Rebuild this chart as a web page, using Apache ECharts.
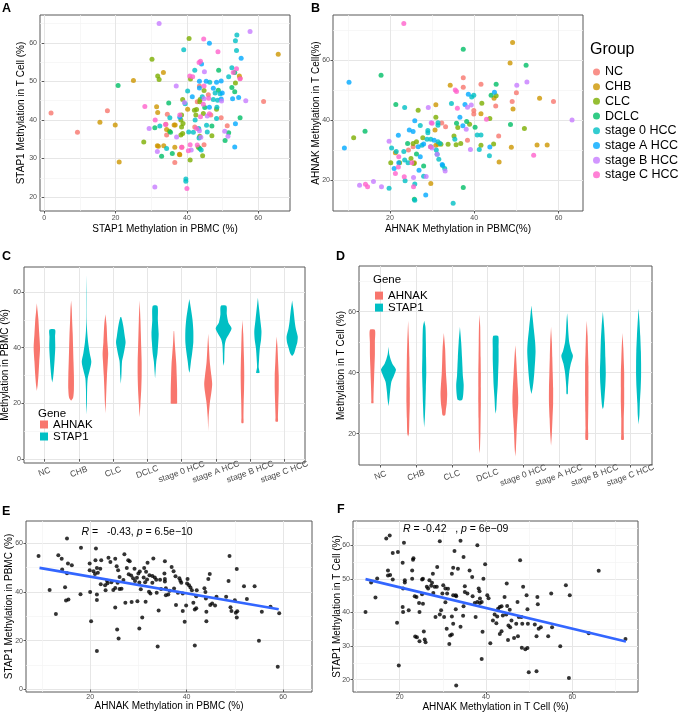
<!DOCTYPE html>
<html><head><meta charset="utf-8">
<script src="https://cdn.jsdelivr.net/npm/echarts@6/dist/echarts.min.js"></script>
<style>html,body{margin:0;padding:0;background:#fff}#c{width:679px;height:712px}</style>
</head><body><div id="c"></div>
<script>
// ---------------- DATA ----------------
const groups = ['NC','CHB','CLC','DCLC','stage 0 HCC','stage A HCC','stage B HCC','stage C HCC'];
const genes = ['AHNAK','STAP1'];

// Panel A: STAP1 PBMC (x) vs STAP1 T cell (y)
const A_NC = [[1.9,41.8],[9.3,36.8],[17.7,42.4],[46.0,46.5],[42.9,44.7],[54.9,50.8],[34.1,38.9],[34.5,41.5],[34.3,36.1],[38.6,32.9],[36.6,29.0],[43.5,48.8],[46.7,41.3],[42.2,38.2],[44.8,33.6],[61.5,44.8],[49.6,40.6],[51.3,38.5]];
const A_CHB = [[15.6,39.4],[19.9,38.7],[21.0,29.1],[25.0,50.2],[33.4,52.3],[31.5,43.4],[31.8,41.9],[36.4,38.7],[34.3,37.5],[32.0,33.2],[33.5,33.3],[36.6,32.9],[38.0,31.0],[40.2,42.8],[54.7,51.4],[65.6,57.0],[31.7,33.3],[37.9,31.1],[36.7,38.7]];
const A_CLC = [[27.9,34.3],[30.2,55.7],[31.8,51.4],[32.2,50.5],[40.6,61.1],[41.0,50.6],[44.8,47.6],[53.6,49.6],[43.7,45.3],[38.8,45.3],[43.6,44.7],[48.3,42.8],[42.7,42.7],[42.1,42.5],[44.6,41.7],[42.5,41.3],[38.5,41.3],[38.3,40.0],[38.9,39.1],[38.5,38.2],[35.1,37.1],[38.8,36.5],[38.3,36.1],[43.6,35.8],[47.0,35.9],[43.2,32.9],[44.4,30.7],[40.9,29.6]];
const A_DCLC = [[20.7,48.9],[48.9,52.9],[53.4,52.3],[48.8,47.7],[52.6,48.4],[53.4,47.3],[34.9,44.4],[45.0,43.2],[54.9,40.6],[31.0,38.0],[35.4,36.8],[51.7,36.7],[32.9,30.6],[35.9,31.3],[43.6,32.6],[50.7,34.7],[47.0,38.4]];
const A_S0 = [[53.6,60.5],[54.0,62.0],[39.1,58.2],[53.9,58.0],[42.2,52.9],[46.4,49.8],[51.7,51.2],[52.6,53.5],[40.2,47.5],[47.9,47.0],[49.3,46.8],[44.3,46.0],[47.4,45.3],[48.6,45.1],[39.5,44.2],[48.4,43.3],[35.2,40.6],[48.3,40.4],[42.3,40.0],[32.4,38.4],[45.5,38.6],[40.5,36.9],[41.8,36.8],[43.3,37.8],[45.7,36.9],[43.4,35.3],[34.3,32.6],[44.0,32.2],[39.7,24.7],[39.7,24.1]];
const A_SA = [[46.3,59.9],[55.2,56.0],[44.1,54.5],[43.5,50.0],[45.4,50.0],[48.3,49.8],[49.6,50.1],[47.4,48.2],[49.9,47.0],[41.5,46.0],[49.6,45.4],[52.8,45.5],[54.5,45.8],[46.3,43.3],[38.0,40.7],[53.6,39.0],[53.4,33.0],[43.5,48.3]];
const A_SB = [[32.2,65.0],[57.7,62.9],[44.9,52.5],[37.0,48.8],[44.8,45.5],[49.7,44.9],[56.5,45.0],[39.3,44.5],[45.7,41.0],[29.4,37.8],[43.5,37.2],[50.6,37.1],[37.1,35.6],[43.9,35.5],[51.5,35.8],[31.7,31.8],[41.2,32.2],[31.0,22.6]];
const A_SC = [[44.7,61.0],[48.7,57.7],[43.4,54.9],[43.8,55.2],[40.8,51.4],[41.6,51.2],[53.0,52.3],[53.9,53.3],[54.9,50.7],[44.8,48.8],[46.1,45.6],[44.6,44.1],[46.3,41.6],[43.8,40.8],[38.0,41.3],[34.0,38.8],[31.1,40.0],[42.7,37.8],[40.9,33.6],[40.4,32.0],[42.9,33.5],[38.5,32.9],[40.0,22.2],[28.2,43.5]];

// Panel B: AHNAK PBMC (x) vs AHNAK T cell (y)
const B_NC = [[37.4,54.2],[37.4,51.0],[41.6,52.0],[50.0,49.2],[45.1,44.8],[49.0,46.3],[58.8,46.3],[39.9,43.3],[39.9,42.1],[33.2,37.9],[32.3,39.1],[38.4,33.4],[45.8,34.8],[25.5,31.2],[24.4,30.1]];
const B_CHB = [[49.1,65.9],[48.5,59.1],[34.3,51.7],[44.7,47.4],[55.5,47.4],[49.2,43.8],[30.9,45.2],[41.6,42.2],[30.7,36.8],[30.9,31.7],[21.3,29.2],[25.8,25.9],[29.7,19.0],[45.9,26.1],[48.8,31.0],[54.9,31.8],[57.3,31.8],[31.4,32.0]];
const B_CLC = [[45.2,48.2],[41.8,45.7],[26.7,43.4],[30.9,41.0],[38.9,38.7],[36.1,37.6],[43.7,40.6],[51.9,37.3],[25.5,32.3],[26.3,32.9],[27.8,34.2],[32.1,32.0],[33.8,32.0],[35.2,34.8],[35.7,31.9],[36.8,32.3],[41.6,31.7],[44.6,32.1],[20.2,25.9],[22.3,25.9],[25.0,27.3],[11.4,34.2],[25.7,25.6]];
const B_DCLC = [[37.4,63.7],[52.3,58.4],[17.9,55.0],[45.2,52.0],[44.0,48.4],[21.4,45.3],[35.8,39.0],[40.2,37.7],[48.6,38.6],[24.2,32.3],[26.3,28.8],[28.0,24.8],[25.8,13.7],[37.4,17.6],[14.1,36.4],[38.2,39.6]];
const B_S0 = [[39.9,48.4],[39.4,47.8],[34.6,45.6],[23.5,44.3],[27.2,38.3],[29.0,36.6],[29.0,35.9],[31.4,38.4],[31.4,39.2],[28.8,33.7],[29.7,33.7],[27.6,31.7],[31.4,32.9],[31.9,32.3],[35.4,33.7],[40.7,35.1],[41.6,35.1],[41.2,30.3],[20.4,30.8],[21.5,29.6],[23.3,29.6],[31.0,30.1],[31.2,28.7],[31.6,27.0],[23.5,26.8],[24.3,25.9],[33.0,24.0],[19.8,17.4],[23.6,19.9],[25.9,18.8],[28.0,21.4],[25.9,13.4],[35.0,12.4],[43.6,28.2],[32.5,25.0],[29.7,31.2]];
const B_SA = [[10.3,52.7],[44.8,49.4],[38.6,48.7],[37.8,45.3],[36.6,41.0],[37.3,38.2],[25.9,39.9],[24.6,36.8],[25.5,36.3],[30.5,33.4],[22.0,35.0],[26.7,31.2],[28.0,32.1],[43.7,31.1],[27.2,27.9],[22.1,25.9],[32.4,25.3],[21.0,24.0],[26.9,23.4],[28.5,15.1],[9.2,30.8]];
const B_SB = [[50.1,51.7],[52.5,52.8],[38.4,44.4],[39.3,45.1],[29.1,44.3],[29.8,39.2],[38.1,37.0],[63.2,40.1],[39.1,30.3],[30.0,30.8],[19.8,33.0],[31.2,28.7],[33.1,23.1],[25.6,21.0],[28.6,21.3],[12.8,18.4],[16.1,19.6],[18.0,17.9]];
const B_SC = [[23.3,72.3],[35.5,50.1],[35.8,49.6],[42.9,40.4],[30.0,39.0],[29.6,31.2],[22.1,27.9],[25.2,25.9],[21.3,22.3],[23.4,21.2],[25.6,17.9],[14.2,18.7],[14.7,17.9],[54.1,28.4],[22.0,24.5],[36.0,44.0]];

// Panels C/D: violin density profiles [methylation %, relative density], top to bottom
const C_AHNAK = [
  [[56,0],[53,2],[50,4],[45,6],[40,8],[35,6],[30,4],[26.5,2],[24.5,0]],
  [[57,0],[54,1.5],[50,2.5],[45,4],[40,5],[35,6],[30,7],[25,7],[22,5],[21,0]],
  [[52,0],[48,3],[42,5],[38,7],[35,6],[30,4],[25,2.5],[20,1.2],[16.5,0]],
  [[57,0],[50,2],[45,3],[40,4],[35,5],[30,5],[25,4],[20,2],[15,0]],
  [[46,0.5],[42,2],[38,4],[34,6],[30,7],[25,8],[21,8],[20,7.5]],
  [[45,0],[40,2],[35,4],[30,8],[27,10],[24,8],[20,4],[15,1.2],[10,0]],
  [[50,0],[45,2],[40,3],[35,4],[30,4.5],[25,4],[20,3],[15,2.5],[13,2.5]],
  [[44,0],[40,2],[35,3.5],[30,5],[25,5],[20,4],[15,3],[13.5,3]]
];
const C_STAP1 = [
  [[46.5,7],[44,7],[40,7.5],[36,6],[32,4],[29,2],[27.5,0]],
  [[66,0],[60,0.4],[50,0.5],[46,1.5],[42,4],[38,8],[35,12],[32,8],[29,3],[25,1.5],[20,1],[16,0]],
  [[51,1],[48,6],[44,10],[42,12],[40,10],[37,6],[35,3],[30,1.5],[27,0]],
  [[55,6],[50,7],[45,9],[42,8],[38,6],[35,3],[31,1],[29,0]],
  [[57.5,0],[54,4],[50,8],[46,10],[42,10],[38,7],[35,4],[32,1.5],[31,0]],
  [[55,7],[52,8],[49,12],[47,20],[45,14],[43,6],[41,3],[38,2],[35,1.5],[33.5,0]],
  [[58,0],[54,3],[50,6],[46,9],[43,8],[40,5],[36,3],[33,2],[31,4]],
  [[57,0],[54,3],[50,6],[47,9],[44,14],[42,13],[40,9],[38,5],[37,0]]
];
const D_AHNAK = [
  [[54,6],[50,6],[46,6],[42,5],[38,4],[34,3],[31,2.5],[30,2.5]],
  [[57,0],[50,2],[45,3],[40,3.5],[35,4],[30,4],[25,3],[20,2],[19,0]],
  [[53,0],[48,3],[44,4],[40,5],[36,7],[33,8],[30,7],[28,5],[26,3]],
  [[59,0],[55,1.5],[50,2],[45,2.5],[40,3],[35,3],[30,3],[25,2.5],[20,2],[15,1],[13.5,0]],
  [[49,0],[45,2],[40,4],[35,6],[32,7],[30,7],[25,5],[20,3],[15,1.5],[12.5,0]],
  [[55,0],[50,2],[45,3],[40,4],[35,5],[30,5],[25,3.5],[20,2],[16,0]],
  [[57,0],[52,2],[47,3],[42,4],[37,4],[32,4],[27,3.5],[22,3],[18,3]],
  [[53,0],[48,2],[44,3],[40,4],[35,4],[30,4],[25,3],[20,3],[18,3]]
];
const D_STAP1 = [
  [[48.5,0],[46,2],[43,9],[41,18],[39,13],[37,7],[34,4],[31,2],[29,0]],
  [[57,0],[55,3],[50,4],[45,4.5],[40,5],[35,4],[30,3],[25,1.5],[22,0]],
  [[55,0],[50,3],[45,5],[42,6],[39,7],[36,9],[33,8],[31,5]],
  [[52,6],[48,7],[44,7],[40,6],[36,5],[32,3],[28,1.5],[26.5,0]],
  [[62,0],[58,3],[54,6],[50,9],[47,10],[44,9],[40,7],[37,5],[35,3],[33,0]],
  [[59.5,0],[57,1.5],[53,3],[50,5],[47,10],[45.5,14],[43,9],[40,5],[37,3],[35,2],[33,1.5]],
  [[60,0],[55,3],[50,5],[45,6],[40,7],[36,6],[32,4],[29,2],[28,0]],
  [[61,0],[57,2],[52,4],[47,5.5],[43,6],[39,6],[35,5],[30,3],[26,2],[23,0]]
];

// Panel E: AHNAK PBMC (x) vs STAP1 PBMC (y)
const E_points = [[9.3,54.7],[15.2,61.8],[18.1,58.0],[21.2,57.7],[13.4,55.0],[14.1,53.5],[14.2,49.1],[15.4,51.6],[16.2,50.9],[15.2,47.6],[11.6,40.8],[14.8,41.9],[15.0,36.5],[15.5,36.9],[12.9,30.9],[18.0,39.0],[20.0,39.9],[20.2,28.0],[21.4,15.8],[21.4,36.7],[21.4,38.9],[19.9,51.6],[19.9,48.8],[20.7,48.4],[21.0,47.3],[21.6,47.8],[21.4,49.8],[22.1,49.5],[22.3,52.9],[21.1,52.9],[22.2,43.1],[23.1,42.7],[23.5,44.5],[23.6,43.5],[23.8,54.0],[24.2,52.2],[23.2,40.7],[24.4,43.9],[24.8,40.8],[25.2,41.6],[25.2,53.5],[25.5,50.5],[25.8,48.8],[26.1,46.1],[25.7,43.7],[26.1,41.2],[26.5,41.3],[25.2,33.6],[25.6,24.6],[25.9,20.9],[26.9,44.8],[27.1,55.4],[27.6,49.8],[27.3,35.5],[27.9,52.9],[28.2,52.5],[28.0,47.2],[28.5,46.7],[28.6,35.8],[28.9,45.6],[29.2,49.5],[29.3,44.4],[29.7,45.8],[30.0,47.5],[30.2,43.8],[29.8,36.2],[30.2,25.0],[30.3,48.3],[30.5,41.1],[30.8,29.5],[31.1,45.9],[31.2,49.8],[31.4,43.9],[31.5,35.9],[31.6,48.2],[31.8,45.1],[31.9,51.9],[32.3,46.8],[32.2,40.0],[32.5,39.3],[32.9,43.7],[32.9,46.5],[33.1,53.6],[33.4,45.9],[33.7,45.0],[33.8,39.6],[34.0,17.6],[34.2,32.4],[34.7,41.2],[34.5,45.0],[35.5,52.5],[35.4,47.5],[35.5,45.3],[35.5,44.2],[35.7,41.5],[35.7,38.6],[36.2,38.9],[36.5,40.4],[36.9,50.2],[37.3,48.4],[37.7,46.4],[37.4,41.4],[37.8,34.6],[38.2,39.6],[38.5,45.6],[38.7,44.5],[38.9,43.7],[39.2,39.3],[39.2,32.2],[39.6,27.8],[39.9,34.4],[40.1,43.4],[40.2,45.3],[40.5,42.7],[40.8,41.8],[41.1,40.7],[41.4,35.5],[41.7,32.8],[41.7,18.0],[42.1,40.7],[42.0,38.2],[42.0,33.3],[43.7,41.5],[43.9,39.9],[44.0,37.3],[44.1,28.0],[44.1,31.8],[44.8,47.3],[44.5,45.3],[44.9,34.6],[45.3,35.2],[45.9,34.4],[46.2,38.0],[48.2,38.0],[48.9,54.7],[48.7,44.4],[49.1,33.7],[49.3,32.2],[50.0,36.6],[50.2,31.4],[50.5,32.1],[50.4,29.5],[50.4,49.3],[51.9,42.3],[52.5,37.1],[54.1,42.3],[55.0,20.0],[55.6,31.8],[57.4,33.9],[59.2,31.2],[58.9,9.3]];
const E_fit = [[9.5,49.8],[59.1,32.9]];

// Panel F: AHNAK T cell (x) vs STAP1 T cell (y)
const F_points = [[12.1,40.1],[13.4,48.9],[14.4,44.4],[14.8,50.1],[16.9,62.0],[17.7,62.9],[17.3,52.5],[17.3,51.0],[17.8,51.1],[18.4,49.8],[18.4,57.7],[19.4,36.9],[19.6,58.0],[19.8,24.2],[21.0,60.7],[20.7,54.8],[20.7,41.6],[20.8,40.1],[20.8,47.1],[21.2,49.6],[21.2,48.9],[22.1,40.6],[22.9,52.5],[23.1,55.7],[23.2,56.1],[22.9,50.0],[23.5,44.8],[23.9,44.6],[23.6,32.8],[24.0,32.6],[24.5,42.8],[24.6,40.1],[24.6,31.4],[25.2,49.8],[25.4,50.0],[25.2,45.4],[25.4,42.6],[25.6,34.3],[25.8,31.9],[26.0,31.1],[26.3,47.6],[26.6,47.1],[26.9,49.6],[27.3,47.9],[27.5,48.8],[27.7,51.5],[27.8,45.8],[28.1,47.6],[28.3,38.6],[28.7,53.5],[28.6,47.6],[29.3,39.4],[29.3,61.2],[29.6,40.6],[29.9,45.6],[30.1,48.1],[30.3,38.6],[30.6,47.1],[30.6,43.0],[30.9,35.1],[31.0,45.6],[31.2,47.0],[31.5,30.6],[31.7,33.1],[32.1,38.8],[32.1,51.5],[32.4,53.3],[32.4,45.1],[32.1,33.4],[32.4,36.6],[32.7,58.3],[33.0,45.1],[33.0,40.9],[33.1,44.8],[33.1,18.2],[33.5,53.0],[34.1,35.7],[34.1,61.3],[34.7,39.0],[34.8,41.8],[34.8,56.5],[35.1,47.8],[35.1,46.1],[35.7,45.6],[36.2,52.5],[36.8,50.5],[36.9,44.8],[37.4,42.8],[37.6,38.6],[38.0,43.1],[38.0,60.0],[38.3,47.1],[38.5,46.3],[38.6,42.8],[38.6,44.1],[39.0,43.1],[39.2,34.2],[39.0,26.1],[39.4,50.0],[39.8,54.3],[40.3,45.1],[40.6,44.2],[41.0,30.8],[41.6,37.6],[42.0,39.4],[42.4,36.8],[42.6,38.8],[42.8,41.1],[43.2,33.6],[43.2,41.6],[43.6,41.8],[43.6,34.4],[43.9,39.1],[44.3,44.6],[44.8,48.6],[44.7,39.4],[44.9,41.9],[45.1,31.8],[45.2,36.1],[45.5,40.8],[45.6,35.6],[45.9,37.6],[46.5,32.4],[47.0,36.6],[47.3,43.1],[47.4,32.9],[47.9,55.5],[47.6,38.6],[48.2,38.6],[48.4,36.6],[48.6,47.6],[48.3,29.5],[49.1,29.0],[49.6,29.4],[49.4,45.1],[49.6,40.9],[49.7,36.6],[49.9,22.2],[51.3,36.4],[51.7,32.9],[51.9,44.6],[52.0,42.4],[52.2,35.1],[51.7,22.5],[52.7,35.6],[54.4,32.9],[55.1,45.6],[55.3,35.6],[57.2,29.9],[58.5,48.1],[59.4,45.1],[59.2,20.5],[63.8,33.8],[66.1,52.4],[72.3,32.1]];
const F_fit = [[12.1,49.9],[72.4,31.3]];

// ---------------- STYLE / LAYOUT ----------------
const groupColors = ['#F8766D','#CD9600','#7CAE00','#00BE67','#00BFC4','#00A9FF','#C77CFF','#FF61CC'];
const geneColors = ['#F8766D','#00BFC4'];
const FONT = '"Liberation Sans", Arial, sans-serif';
const GMAJ = '#E6E6E6', GMIN = '#F3F3F3';
const DODGE = 0.225, WSCALE = 1/86;

const gridBoxes = [
  [40,15,250,196],   // A
  [333,15,250,196],  // B
  [24,267,281,196],  // C
  [359,266,293,199], // D
  [26,521,286,171],  // E
  [353,521,285,171]  // F
];

function major(dim, gi, min, max, ticks, cfg) {
  cfg = cfg || {};
  const lab = { customValues: ticks, fontSize: cfg.fs || 7, color: '#4D4D4D', fontFamily: FONT, margin: cfg.margin != null ? cfg.margin : 3 };
  if (cfg.formatter) lab.formatter = cfg.formatter;
  if (cfg.rotate) lab.rotate = cfg.rotate;
  if (cfg.align) lab.align = cfg.align;
  if (cfg.valign) lab.verticalAlign = cfg.valign;
  return {
    type: 'value', gridIndex: gi, min: min, max: max,
    position: dim === 'x' ? 'bottom' : 'left',
    axisLine: { show: false },
    axisTick: { show: true, length: 2.5, customValues: ticks, lineStyle: { color: '#333', width: 0.8 } },
    axisLabel: lab,
    splitLine: { show: true, lineStyle: { color: GMAJ, width: 1 } },
    name: cfg.name || '', nameLocation: 'middle', nameGap: cfg.nameGap || 12,
    nameTextStyle: { fontSize: 10, color: '#000', fontFamily: FONT },
    nameMoveOverlap: false,
    z: 0
  };
}
function minor(dim, gi, min, max, ticks) {
  return {
    type: 'value', gridIndex: gi, min: min, max: max,
    position: dim === 'x' ? 'top' : 'right',
    axisLine: { show: false },
    axisTick: { show: false, customValues: ticks },
    axisLabel: { show: false, customValues: ticks },
    splitLine: { show: true, lineStyle: { color: GMIN, width: 0.7 } },
    z: 0
  };
}
const catFmt = v => groups[Math.round(v) - 1] || '';
const catTicks = groups.map((g, i) => i + 1);

const xAxes = [
  major('x',0,-1.2,68.9,[0,20,40,60],{name:'STAP1 Methylation in PBMC (%)',nameGap:13,margin:3.5}),
  minor('x',0,-1.2,68.9,[10,30,50]),
  major('x',1,6.5,65.8,[20,40,60],{name:'AHNAK Methylation in PBMC(%)',nameGap:13,margin:3.5}),
  minor('x',1,6.5,65.8,[10,30,50]),
  major('x',2,0.4,8.6,catTicks,{formatter:catFmt,rotate:20,align:'center',valign:'middle',margin:9,fs:8.5}),
  major('x',3,0.4,8.6,catTicks,{formatter:catFmt,rotate:20,align:'center',valign:'middle',margin:10.5,fs:8.5}),
  major('x',4,6.7,66,[20,40,60],{name:'AHNAK Methylation in PBMC (%)',nameGap:9.5,margin:2}),
  minor('x',4,6.7,66,[10,30,50]),
  major('x',5,9.2,75.2,[20,40,60],{name:'AHNAK Methylation in T Cell (%)',nameGap:10.5,margin:2}),
  minor('x',5,9.2,75.2,[10,30,50,70])
];

const yAxes = [
  major('y',0,16.4,67.2,[20,30,40,50,60],{name:'STAP1 Methylation in T Cell (%)',nameGap:14}),
  minor('y',0,16.4,67.2,[25,35,45,55,65]),
  major('y',1,9.8,75.1,[20,40,60],{name:'AHNAK Methylation in T Cell(%)',nameGap:11.5}),
  minor('y',1,9.8,75.1,[30,50,70]),
  major('y',2,-1.4,69,[0,20,40,60],{name:'Methylation in PBMC (%)',nameGap:14}),
  minor('y',2,-1.4,69,[10,30,50]),
  major('y',3,9.7,75,[20,40,60],{name:'Methylation in T Cell (%)',nameGap:13}),
  minor('y',3,9.7,75,[30,50,70]),
  major('y',4,-1,69,[0,20,40,60],{name:'STAP1 Methylation in PBMC (%)',nameGap:12}),
  minor('y',4,-1,69,[10,30,50]),
  major('y',5,16.3,67.2,[20,30,40,50,60],{name:'STAP1 Methylation in T Cell (%)',nameGap:10.5}),
  minor('y',5,16.3,67.2,[25,35,45,55,65])
];

// ---------------- SERIES ----------------
const A_sets = [A_NC,A_CHB,A_CLC,A_DCLC,A_S0,A_SA,A_SB,A_SC];
const B_sets = [B_NC,B_CHB,B_CLC,B_DCLC,B_S0,B_SA,B_SB,B_SC];
const series = [];
groups.forEach((g, i) => {
  series.push({ type:'scatter', name:g, xAxisIndex:0, yAxisIndex:0, data:A_sets[i], symbolSize:5, itemStyle:{color:groupColors[i]}, z:2 });
});
groups.forEach((g, i) => {
  series.push({ type:'scatter', name:g, xAxisIndex:2, yAxisIndex:2, data:B_sets[i], symbolSize:5, itemStyle:{color:groupColors[i]}, z:2 });
});

function violinRender(profiles, side) {
  return function (params, api) {
    const i = api.value(1);
    const cx = api.value(0) + side * DODGE;
    const prof = profiles[i];
    const right = prof.map(p => api.coord([cx + p[1] * WSCALE, p[0]]));
    const left = prof.slice().reverse().map(p => api.coord([cx - p[1] * WSCALE, p[0]]));
    return {
      type: 'polygon',
      shape: { points: right.concat(left), smooth: 0.25 },
      style: { fill: api.visual('color'), stroke: null }
    };
  };
}
const violinData = groups.map((g, i) => [i + 1, i]);
[[C_AHNAK,C_STAP1,4,4],[D_AHNAK,D_STAP1,5,6]].forEach(cfg => {
  series.push({ type:'custom', name:'AHNAK', xAxisIndex:cfg[2], yAxisIndex:cfg[3], data:violinData,
    renderItem: violinRender(cfg[0], -1), itemStyle:{color:geneColors[0]}, clip:true, z:2 });
  series.push({ type:'custom', name:'STAP1', xAxisIndex:cfg[2], yAxisIndex:cfg[3], data:violinData,
    renderItem: violinRender(cfg[1], 1), itemStyle:{color:geneColors[1]}, clip:true, z:2 });
});

series.push({ type:'scatter', name:'E', xAxisIndex:6, yAxisIndex:8, data:E_points, symbolSize:4, itemStyle:{color:'#000'}, z:2 });
series.push({ type:'line', name:'Efit', xAxisIndex:6, yAxisIndex:8, data:E_fit, showSymbol:false, symbol:'none', lineStyle:{color:'#3366FF', width:2.6}, z:3 });
series.push({ type:'scatter', name:'F', xAxisIndex:8, yAxisIndex:10, data:F_points, symbolSize:4, itemStyle:{color:'#000'}, z:2 });
series.push({ type:'line', name:'Ffit', xAxisIndex:8, yAxisIndex:10, data:F_fit, showSymbol:false, symbol:'none', lineStyle:{color:'#3366FF', width:2.6}, z:3 });

// ---------------- TEXT ----------------
function txt(x, y, text, size, extra) {
  return Object.assign({ type:'text', x:x, y:y, z:10,
    style: Object.assign({ text:text, fontSize:size, fontFamily:FONT, fill:'#000', align:'left', verticalAlign:'middle' }, extra || {}) });
}
const graphics = [
  txt(2, 8.5, 'A', 12.5, {fontWeight:'bold'}),
  txt(311, 8.5, 'B', 12.5, {fontWeight:'bold'}),
  txt(2, 257, 'C', 12.5, {fontWeight:'bold'}),
  txt(336, 257, 'D', 12.5, {fontWeight:'bold'}),
  txt(2, 512, 'E', 12.5, {fontWeight:'bold'}),
  txt(337, 510, 'F', 12.5, {fontWeight:'bold'}),
  txt(590, 50, 'Group', 16),
  txt(38, 414, 'Gene', 11.5),
  txt(373, 280, 'Gene', 11.5),
  txt(81.5, 531.7, '{i|R} =   -0.43, {i|p} = 6.5e\u221210', 10.5, {rich:{i:{fontStyle:'italic', fontSize:10.5, fontFamily:FONT}}}),
  txt(403, 529, '{i|R} = -0.42   , {i|p} = 6e\u221209', 10.5, {rich:{i:{fontStyle:'italic', fontSize:10.5, fontFamily:FONT}}})
];

const option = {
  animation: false,
  backgroundColor: '#fff',
  textStyle: { fontFamily: FONT },
  grid: gridBoxes.map(b => ({ left:b[0], top:b[1], width:b[2], height:b[3], show:true, backgroundColor:'#fff', borderColor:'#595959', borderWidth:1, containLabel:false, outerBoundsMode:'none' })),
  xAxis: xAxes,
  yAxis: yAxes,
  legend: [
    { data: groups.map(g => ({ name:g, icon:'circle' })), orient:'vertical', left:593, top:64.6, padding:0,
      itemWidth:7, itemHeight:7, itemGap:0, selectedMode:false,
      textStyle:{ fontSize:12.5, lineHeight:14.7, color:'#000', fontFamily:FONT } },
    { data: genes.map(g => ({ name:g, icon:'rect' })), orient:'vertical', left:40, top:418.5, padding:0,
      itemWidth:8, itemHeight:8, itemGap:0, selectedMode:false,
      textStyle:{ fontSize:11.5, lineHeight:10.3, color:'#000', fontFamily:FONT } },
    { data: genes.map(g => ({ name:g, icon:'rect' })), orient:'vertical', left:375, top:289.6, padding:0,
      itemWidth:8, itemHeight:8, itemGap:0, selectedMode:false,
      textStyle:{ fontSize:11.5, lineHeight:10.7, color:'#000', fontFamily:FONT } }
  ],
  graphic: graphics,
  series: series
};
const chart = echarts.init(document.getElementById('c'), null, { renderer:'canvas' });
chart.setOption(option);
</script>
</body></html>
